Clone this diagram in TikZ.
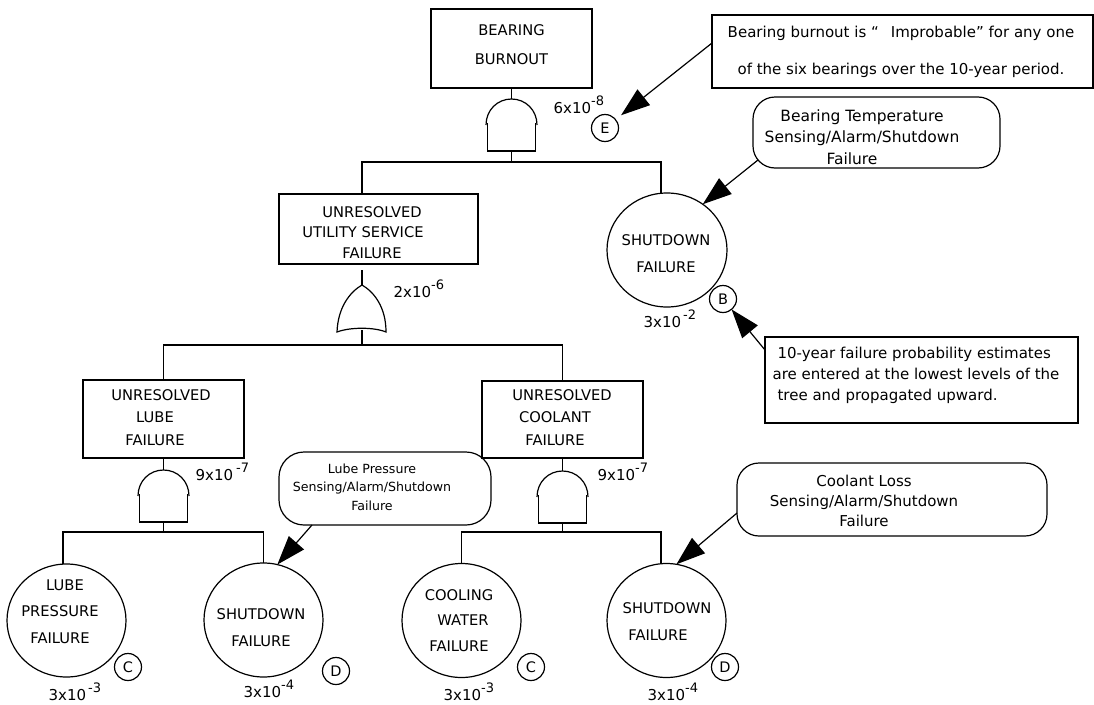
\documentclass[tikz,border=0pt]{standalone}
\usepackage{fontspec}
\setmainfont{DejaVu Sans}
\usetikzlibrary{shapes.geometric,arrows.meta}
\newcommand\myexp[1]{\raisebox{7.5pt}{\fontsize{13}{13}\selectfont #1}}
\begin{document}
\begin{tikzpicture}[x=1pt,y=-1pt,line width=1.2pt,
  shp/.style={draw,inner sep=0pt,outer sep=0pt},
  box/.style={shp,rectangle},
  evt/.style={shp,ellipse,minimum width=119pt,minimum height=114pt},
  tag/.style={shp,circle,minimum size=27pt,font=\fontsize{14.5}{15}\selectfont},
  note/.style={shp,rectangle,rounded corners=22pt},
  txt/.style={inner sep=0pt,align=center},
  caps/.style={txt,font=\fontsize{14.7}{#1}\selectfont},
  prob/.style={inner sep=0pt,anchor=base west,font=\fontsize{15}{15}\selectfont},
  arr/.style={-{Triangle[length=29pt,width=20pt]}},
  andg/.pic={
    \draw (-24,24) -- (-24,52) -- (24,52) -- (24,24);
    \draw (-25.5,26) .. controls (-25.5,11) and (-14,0) .. (0,0)
          .. controls (14,0) and (25.5,11) .. (25.5,26);
  },
  org/.pic={
    \draw (-25,47) .. controls (-24,22) and (-12,7) .. (0,0)
          .. controls (12,7) and (24,22) .. (24,47)
          .. controls (12,42) and (-12,42) .. (-25,47) -- cycle;
  },
]
\useasboundingbox (0,0) rectangle (1094,704);

% ---------- boxes ----------
\node[box,minimum width=161pt,minimum height=79pt] (top) at (511.5,48.5) {};
\node[caps=29] (topT) at (511.5,44.5) {BEARING\\BURNOUT};

\node[box,minimum width=199pt,minimum height=70pt] (util) at (378.5,229) {};
\node[caps=20.5] (utilT) at (372,232.5) {UNRESOLVED\\UTILITY SERVICE\kern18pt\\FAILURE};

\node[box,minimum width=161pt,minimum height=78pt] (lube) at (163.5,419) {};
\node[caps=22.5] (lubeT) at (155,417.5) {\kern12pt UNRESOLVED\\LUBE\\FAILURE};

\node[box,minimum width=161pt,minimum height=77pt] (cool) at (562.5,419.5) {};
\node[caps=22.5] (coolT) at (555,417.5) {\kern14pt UNRESOLVED\\COOLANT\\FAILURE};

% ---------- basic events ----------
\node[evt,minimum width=120pt] (sd1) at (667,250) {};
\node[caps=27] (sd1T) at (666,253.5) {SHUTDOWN\\FAILURE};

\node[evt,minimum height=113pt] (lp) at (66.5,620.5) {};
\node[caps=26.5] (lpT) at (60,611.5) {\kern10pt LUBE\\PRESSURE\\FAILURE};

\node[evt] (sd2) at (263.5,620) {};
\node[caps=27] (sd2T) at (261,627.5) {SHUTDOWN\\FAILURE};

\node[evt] (cw) at (461.5,620.5) {};
\node[caps=25.5] (cwT) at (459,620.5) {COOLING\\\kern8pt WATER\\FAILURE};

\node[evt] (sd3) at (666.5,620.5) {};
\node[caps=27] (sd3T) at (663,621.5) {\kern8pt SHUTDOWN\\FAILURE\kern10pt};

% ---------- tags ----------
\node[tag] (tE) at (605,128) {E};
\node[tag] (tB) at (723,299) {B};
\node[tag] (tC1) at (128,667) {C};
\node[tag] (tD1) at (336,671) {D};
\node[tag] (tC2) at (531,667) {C};
\node[tag] (tD2) at (725,667) {D};

% ---------- probabilities ----------
\node[prob] (p1) at (553,113) {6x10\myexp{-8}};
\node[prob] (p2) at (393,297) {2x10\myexp{-6}};
\node[prob] (p3) at (643,327) {3x10\kern2pt\myexp{-2}};
\node[prob] (p4) at (195,480) {9x10\kern3pt\myexp{-7}};
\node[prob] (p5) at (597,480) {9x10\myexp{-7}};
\node[prob] (p6) at (48,700) {3x10\kern2pt\myexp{-3}};
\node[prob] (p7) at (243,697) {3x10\myexp{-4}};
\node[prob] (p8) at (443,700) {3x10\myexp{-3}};
\node[prob] (p9) at (647,700) {3x10\myexp{-4}};

% ---------- gates ----------
\coordinate (g1t) at (511.5,99);
\coordinate (g1b) at (511.5,151);
\coordinate (b1) at (511.5,162);
\pic at (g1t) {andg};

\coordinate (g2t) at (362,285);
\coordinate (g2b) at (362,330);
\coordinate (b2) at (362,345);
\pic at (g2t) {org};

\coordinate (g3t) at (163.5,470);
\coordinate (g3b) at (163.5,522);
\coordinate (b3) at (163.5,532);
\pic at (g3t) {andg};

\coordinate (g4t) at (562.5,471);
\coordinate (g4b) at (562.5,523);
\coordinate (b4) at (562.5,532);
\pic at (g4t) {andg};

% ---------- tree connectors ----------
\draw (top.south) -- (g1t);
\draw (g1b) -- (b1);
\draw (util.north -| g2t) |- (b1) -| ([xshift=-6pt]sd1.north);

\draw ([yshift=-6pt]util.south -| g2t) -- (g2t);
\draw (g2b) -- (b2);
\draw (lube.north) |- (b2) -| (cool.north);

\draw (lube.south) -- (g3t);
\draw (g3b) -- (b3);
\draw ([xshift=-3.5pt]lp.north) |- (b3) -| (sd2.north);

\draw (cool.south) -- (g4t);
\draw (g4b) -- (b4);
\draw (cw.north) |- (b4) -| ([xshift=-5.5pt]sd3.north);

% ---------- callouts ----------
\node[box,minimum width=381pt,minimum height=73pt] (c1) at (902.5,51.5) {};
\node[txt,font=\fontsize{15}{37}\selectfont] (c1T) at (901,52)
  {Bearing burnout is “\hspace{12pt}Improbable” for any one\\of the six bearings over the 10-year period.};

\node[note,minimum width=247pt,minimum height=71pt] (c2) at (876.5,132.5) {};
\node[txt,font=\fontsize{15.5}{21.5}\selectfont] (c2T) at (862,137)
  {Bearing Temperature\\Sensing/Alarm/Shutdown\\Failure\kern20pt};

\node[note,rounded corners=25pt,minimum width=212pt,minimum height=73pt] (c3) at (385,488.5) {};
\node[txt,font=\fontsize{12.6}{18.5}\selectfont] (c3T) at (372,487)
  {Lube Pressure\\Sensing/Alarm/Shutdown\\Failure};

\node[note,minimum width=310pt,minimum height=73pt] (c4) at (892,499.5) {};
\node[txt,font=\fontsize{15}{20}\selectfont] (c4T) at (864,501)
  {Coolant Loss\\Sensing/Alarm/Shutdown\\Failure};

\node[box,minimum width=313pt,minimum height=86pt] (c5) at (921.5,380) {};
\node[txt,align=left,anchor=west,font=\fontsize{15}{21}\selectfont] (c5T) at (772,375)
  {\kern5pt 10-year failure probability estimates\\are entered at the lowest levels of the\\\kern5pt tree and propagated upward.};

% ---------- callout arrows ----------
\draw[arr,shorten >=7pt] ([yshift=8.5pt]c1.west) -- (tE);
\draw[arr] ([shift={(5pt,8pt)}]c2.south west) -- (sd1.52);
\draw[arr] ([xshift=-73pt]c3.south) -- (sd2.76);
\draw[arr] ([yshift=-13.5pt]c4.west) -- (sd3.80);
\draw[arr] ([yshift=-13pt]c5.north west) -- (tB);
\end{tikzpicture}
\end{document}
